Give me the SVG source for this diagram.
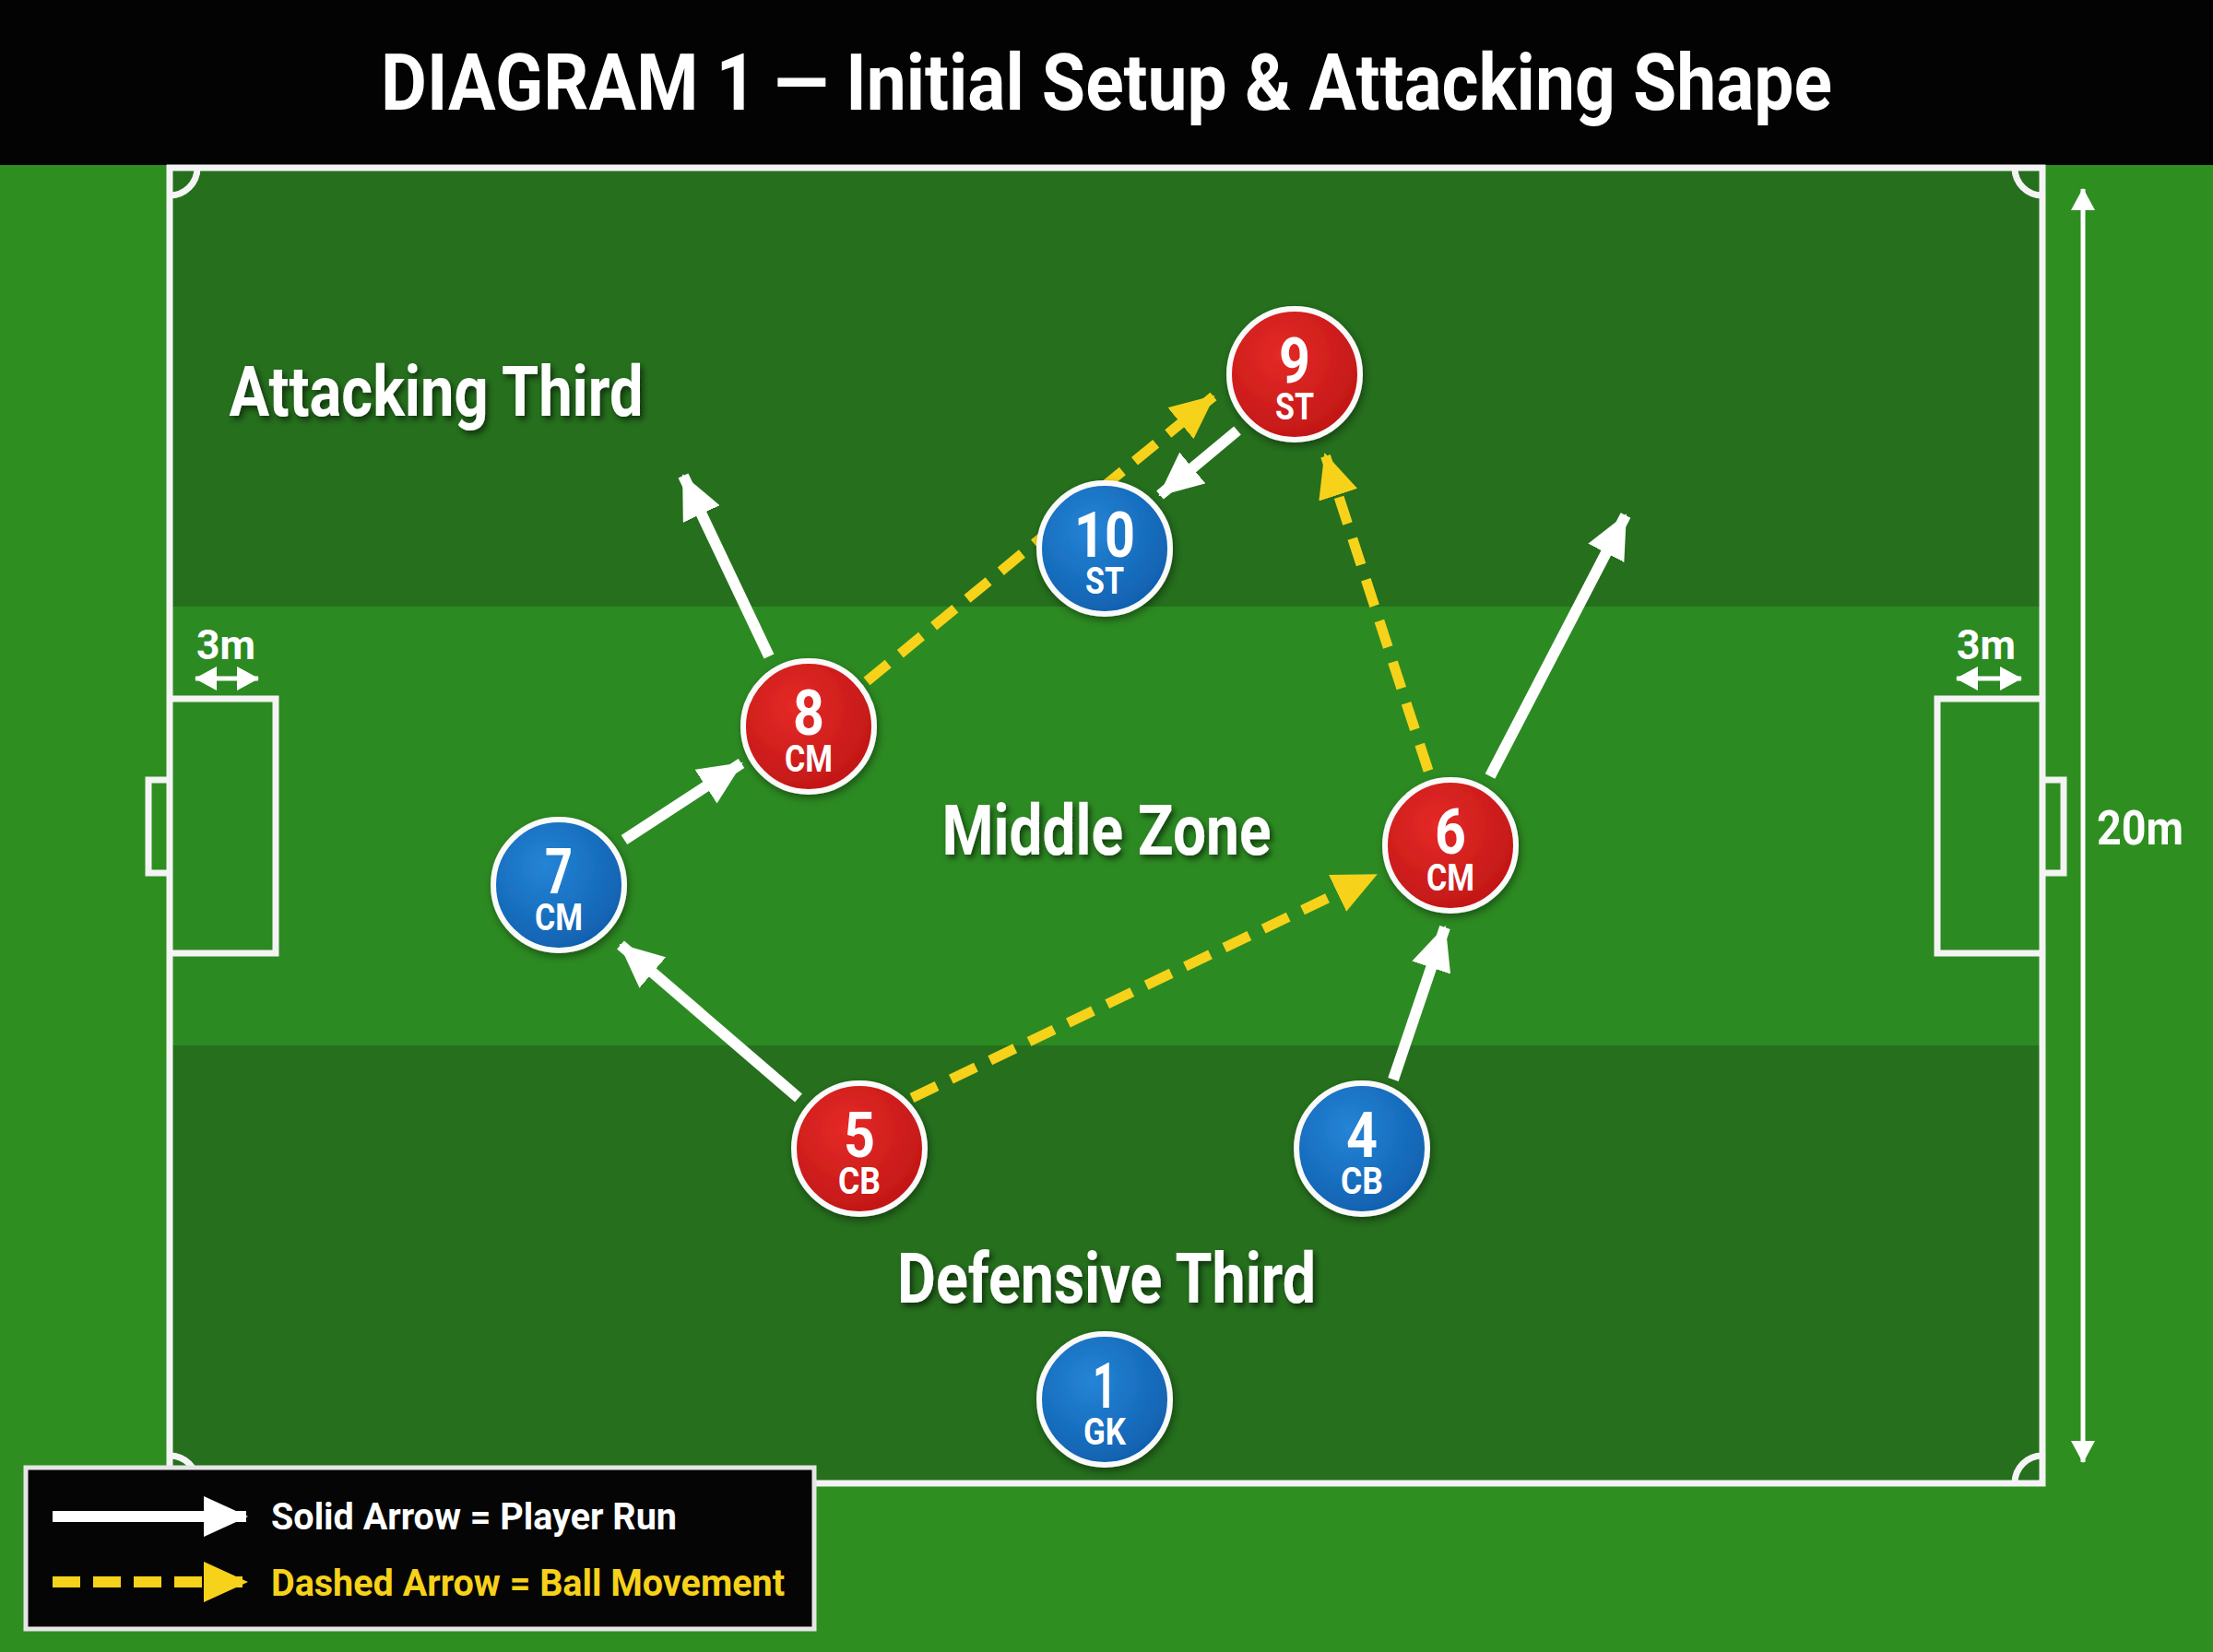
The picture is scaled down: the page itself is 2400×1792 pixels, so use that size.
<svg xmlns="http://www.w3.org/2000/svg" width="2400" height="1792" viewBox="0 0 2400 1792">
<defs>
<style>
.t{font-family:Roboto,"Liberation Sans",Arial,sans-serif;font-weight:bold;fill:#fff;text-anchor:middle}
.zone{font-size:76px;filter:url(#tsh)}
.num{font-size:68px}
.pos{font-size:41px}
.line{fill:none;stroke:#f4f4f4;stroke-width:7}
.run{fill:none;stroke:#fff;stroke-width:12;marker-end:url(#wh)}
.ball{fill:none;stroke:#f6d21a;stroke-width:11;stroke-dasharray:30 17;marker-end:url(#yh)}
.dim{fill:none;stroke:#fff;stroke-width:5}
.red{fill:url(#gr);stroke:#fafafa;stroke-width:6;filter:url(#csh)}
.blue{fill:url(#gb);stroke:#fafafa;stroke-width:6;filter:url(#csh)}
</style>
<radialGradient id="gr" cx="40%" cy="35%" r="70%"><stop offset="0" stop-color="#e52a26"/><stop offset="1" stop-color="#c01616"/></radialGradient>
<radialGradient id="gb" cx="40%" cy="35%" r="70%"><stop offset="0" stop-color="#2584d6"/><stop offset="1" stop-color="#0f5fae"/></radialGradient>
<filter id="tsh" x="-10%" y="-30%" width="120%" height="160%"><feDropShadow dx="3" dy="4" stdDeviation="3" flood-color="#000" flood-opacity="0.55"/></filter>
<filter id="csh" x="-20%" y="-20%" width="140%" height="140%"><feDropShadow dx="2" dy="4" stdDeviation="4" flood-color="#000" flood-opacity="0.4"/></filter>
<marker id="wh" markerUnits="userSpaceOnUse" viewBox="0 0 48 44" markerWidth="48" markerHeight="44" refX="46" refY="22" orient="auto"><path d="M0,0 L48,22 L0,44 z" fill="#fff"/></marker>
<marker id="yh" markerUnits="userSpaceOnUse" viewBox="0 0 48 44" markerWidth="48" markerHeight="44" refX="46" refY="22" orient="auto"><path d="M0,0 L48,22 L0,44 z" fill="#f6d21a"/></marker>
<marker id="dh" markerUnits="userSpaceOnUse" viewBox="0 0 24 26" markerWidth="24" markerHeight="26" refX="23" refY="13" orient="auto-start-reverse"><path d="M0,0 L24,13 L0,26 z" fill="#fff"/></marker>
</defs>

<!-- background -->
<rect x="0" y="0" width="2400" height="1792" fill="#2e8f20"/>
<rect x="0" y="0" width="2400" height="179" fill="#030303"/>
<text class="t" x="1200" y="119" font-size="86" textLength="1574" lengthAdjust="spacingAndGlyphs">DIAGRAM 1 — Initial Setup &amp; Attacking Shape</text>

<!-- zones -->
<rect x="184" y="182" width="2031" height="476" fill="#256f1d"/>
<rect x="184" y="658" width="2031" height="476" fill="#2c8a22"/>
<rect x="184" y="1134" width="2031" height="475" fill="#256f1d"/>

<!-- pitch lines -->
<g id="pitch">
<rect class="line" x="184" y="182" width="2031" height="1427"/>
<path class="line" d="M214,182 A30,30 0 0 1 184,212"/>
<path class="line" d="M2185,182 A30,30 0 0 0 2215,212"/>
<path class="line" d="M184,1579 A30,30 0 0 1 214,1609"/>
<path class="line" d="M2215,1579 A30,30 0 0 0 2185,1609"/>
<path class="line" d="M184,758 H299 V1034 H184"/>
<path class="line" d="M184,846 H161 V947 H184"/>
<path class="line" d="M2215,758 H2101 V1034 H2215"/>
<path class="line" d="M2215,846 H2238 V947 H2215"/>
</g>

<!-- dimensions -->
<g id="dimensions">
<line class="dim" x1="212" y1="736" x2="280" y2="736" marker-start="url(#dh)" marker-end="url(#dh)"/>
<text class="t" x="245" y="715" font-size="45" textLength="64" lengthAdjust="spacingAndGlyphs">3m</text>
<line class="dim" x1="2122" y1="736" x2="2192" y2="736" marker-start="url(#dh)" marker-end="url(#dh)"/>
<text class="t" x="2154" y="715" font-size="45" textLength="64" lengthAdjust="spacingAndGlyphs">3m</text>
<line class="dim" x1="2259" y1="1586" x2="2259" y2="205" marker-start="url(#dh)" marker-end="url(#dh)"/>
<text class="t" x="2321" y="916" font-size="52" textLength="94" lengthAdjust="spacingAndGlyphs">20m</text>
</g>

<!-- zone labels -->
<g id="labels">
<text class="t zone" x="473" y="451" textLength="449" lengthAdjust="spacingAndGlyphs">Attacking Third</text>
<text class="t zone" x="1200" y="927" textLength="357" lengthAdjust="spacingAndGlyphs">Middle Zone</text>
<text class="t zone" x="1200" y="1413" textLength="454" lengthAdjust="spacingAndGlyphs">Defensive Third</text>
</g>

<!-- connectors -->
<g id="connectors">
<line class="ball" x1="940" y1="739" x2="1316" y2="430"/>
<line class="ball" x1="1549" y1="836" x2="1437" y2="493"/>
<line class="ball" x1="989" y1="1191" x2="1492" y2="949"/>
<line class="run" x1="834" y1="712" x2="741" y2="516"/>
<line class="run" x1="1342" y1="467" x2="1258" y2="537"/>
<line class="run" x1="677" y1="911" x2="804" y2="828"/>
<line class="run" x1="866" y1="1191" x2="673" y2="1025"/>
<line class="run" x1="1511" y1="1171" x2="1567" y2="1006"/>
<line class="run" x1="1616" y1="842" x2="1763" y2="559"/>
</g>

<!-- players -->
<g id="p9"><circle class="red" cx="1404" cy="406" r="71"/><text class="t num" x="1404" y="415" textLength="34" lengthAdjust="spacingAndGlyphs">9</text><text class="t pos" x="1404" y="455" textLength="42" lengthAdjust="spacingAndGlyphs">ST</text></g>
<g id="p10"><circle class="blue" cx="1198" cy="595" r="71"/><text class="t num" x="1198" y="604" textLength="66" lengthAdjust="spacingAndGlyphs">10</text><text class="t pos" x="1198" y="644" textLength="42" lengthAdjust="spacingAndGlyphs">ST</text></g>
<g id="p8"><circle class="red" cx="877" cy="788" r="71"/><text class="t num" x="877" y="797" textLength="34" lengthAdjust="spacingAndGlyphs">8</text><text class="t pos" x="877" y="837" textLength="52" lengthAdjust="spacingAndGlyphs">CM</text></g>
<g id="p7"><circle class="blue" cx="606" cy="960" r="71"/><text class="t num" x="606" y="969" textLength="30" lengthAdjust="spacingAndGlyphs">7</text><text class="t pos" x="606" y="1009" textLength="52" lengthAdjust="spacingAndGlyphs">CM</text></g>
<g id="p6"><circle class="red" cx="1573" cy="917" r="71"/><text class="t num" x="1573" y="926" textLength="34" lengthAdjust="spacingAndGlyphs">6</text><text class="t pos" x="1573" y="966" textLength="52" lengthAdjust="spacingAndGlyphs">CM</text></g>
<g id="p5"><circle class="red" cx="932" cy="1246" r="71"/><text class="t num" x="932" y="1255" textLength="34" lengthAdjust="spacingAndGlyphs">5</text><text class="t pos" x="932" y="1295" textLength="46" lengthAdjust="spacingAndGlyphs">CB</text></g>
<g id="p4"><circle class="blue" cx="1477" cy="1246" r="71"/><text class="t num" x="1477" y="1255" textLength="34" lengthAdjust="spacingAndGlyphs">4</text><text class="t pos" x="1477" y="1295" textLength="46" lengthAdjust="spacingAndGlyphs">CB</text></g>
<g id="p1"><circle class="blue" cx="1198" cy="1518" r="71"/><text class="t num" x="1198" y="1527" textLength="26" lengthAdjust="spacingAndGlyphs">1</text><text class="t pos" x="1198" y="1567" textLength="46" lengthAdjust="spacingAndGlyphs">GK</text></g>

<!-- legend -->
<g id="legend">
<rect x="28" y="1592" width="855" height="175" fill="#050505" stroke="#e6e6e6" stroke-width="5"/>
<line x1="57" y1="1645" x2="267" y2="1645" stroke="#fff" stroke-width="12" marker-end="url(#wh)"/>
<text class="t" x="294" y="1659" font-size="41" text-anchor="start" style="text-anchor:start" textLength="440" lengthAdjust="spacingAndGlyphs">Solid Arrow = Player Run</text>
<line x1="57" y1="1716" x2="267" y2="1716" stroke="#f6d21a" stroke-width="12" stroke-dasharray="30 14" marker-end="url(#yh)"/>
<text class="t" x="294" y="1731" font-size="41" style="text-anchor:start;fill:#f6d21a" textLength="557" lengthAdjust="spacingAndGlyphs">Dashed Arrow = Ball Movement</text>
</g>
</svg>
